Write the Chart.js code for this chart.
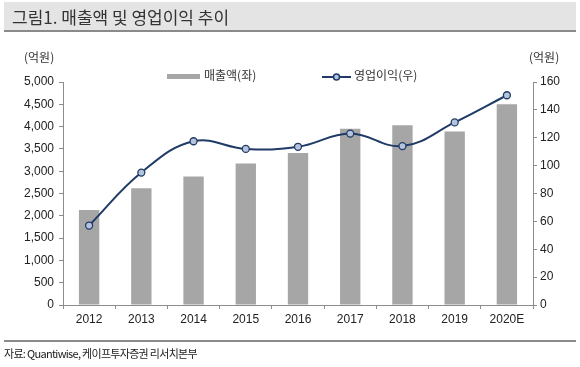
<!DOCTYPE html>
<html>
<head>
<meta charset="utf-8">
<script src="https://cdn.jsdelivr.net/npm/chart.js@4"></script>
<style>
  html, body { margin: 0; padding: 0; background: #fff; }
  #wrap { position: relative; width: 580px; height: 367px; overflow: hidden; font-family: "Noto Sans CJK KR", "Noto Sans", sans-serif; }
  #title { position: absolute; left: 4px; top: 2px; width: 572px; height: 28px; background: #e4e4e4; border-bottom: 2px solid #8a8a8a; }
  #title span { position: absolute; left: 8px; top: 2px; font-size: 17px; color: #333; }
  #chart { position: absolute; left: 0; top: 0; }
  .unit { position: absolute; top: 48px; font-size: 12px; color: #333; font-family: "Noto Sans CJK KR", sans-serif; }
  .legend { position: absolute; top: 66px; font-size: 12px; color: #333; }
  #foot { position: absolute; left: 4px; top: 340px; width: 572px; border-top: 2px solid #8a8a8a; }
  #foot span { position: absolute; left: 0px; top: 3px; font-size: 11px; color: #222; white-space: nowrap; letter-spacing: -0.7px; }
</style>
</head>
<body>
<div id="wrap">
  <canvas id="chart" width="580" height="367"></canvas>
  <div id="title"><span>그림1. 매출액 및 영업이익 추이</span></div>
  <div class="unit" style="left:24px;">(억원)</div>
  <div class="unit" style="left:529px;">(억원)</div>
  <div class="legend" style="left:167px;">
    <span style="display:inline-block;width:33px;height:5px;background:#a6a6a6;vertical-align:middle;margin-right:4px;"></span>매출액(좌)
  </div>
  <div class="legend" style="left:322px;">
    <svg width="29" height="10" style="vertical-align:middle;margin-right:3px;">
      <line x1="0" y1="5" x2="29" y2="5" stroke="#1f3b66" stroke-width="2"/>
      <circle cx="14.5" cy="5" r="3" fill="#b3c4dc" stroke="#1f3b66" stroke-width="1.5"/>
    </svg>영업이익(우)
  </div>
  <div id="foot"><span>자료: Quantiwise, 케이프투자증권 리서치본부</span></div>
</div>
<script>
// data
const years = ["2012", "2013", "2014", "2015", "2016", "2017", "2018", "2019", "2020E"];
const sales = [2130, 2620, 2880, 3170, 3410, 3950, 4030, 3890, 4500];      // 매출액, left axis
const opProfit = [57, 95, 117.5, 112, 113.5, 123, 114, 131, 150.5];        // 영업이익, right axis

const tickFont = { family: "'Liberation Sans', Arial, sans-serif", size: 12 };
const axisGray = "#8c8c8c";

const config = {
  type: "bar",
  data: {
    labels: years,
    datasets: [
      {
        type: "line",
        label: "영업이익(우)",
        data: opProfit,
        yAxisID: "y2",
        borderColor: "#1f3b66",
        borderWidth: 2,
        tension: 0.4,
        pointRadius: 3.5,
        pointBackgroundColor: "#b3c4dc",
        pointBorderColor: "#1f3b66",
        pointBorderWidth: 1.3,
        order: 0,
      },
      {
        type: "bar",
        label: "매출액(좌)",
        data: sales,
        yAxisID: "y",
        backgroundColor: "#a6a6a6",
        barPercentage: 0.39,
        categoryPercentage: 1,
        order: 1,
      },
    ],
  },
  options: {
    responsive: false,
    animation: false,
    layout: { padding: { top: 82, left: 0, right: 0, bottom: 0 } },
    plugins: {
      legend: { display: false },
      tooltip: { enabled: false },
    },
    scales: {
      x: {
        grid: { display: true, drawOnChartArea: false, drawTicks: true, tickLength: 4, color: axisGray, offset: true },
        border: { display: true, color: axisGray, width: 1 },
        ticks: { font: tickFont, color: "#222", padding: 3, maxRotation: 0 },
        afterFit: function (scale) { scale.height = 62; },
      },
      y: {
        position: "left",
        min: 0,
        max: 5000,
        grid: { display: true, drawOnChartArea: false, drawTicks: true, tickLength: 4, color: axisGray },
        border: { display: true, color: axisGray, width: 1 },
        ticks: {
          stepSize: 500,
          font: tickFont,
          color: "#222",
          padding: 5,
          callback: function (value) { return value.toLocaleString("en-US"); },
        },
        afterFit: function (scale) { scale.width = 63; },
      },
      y2: {
        position: "right",
        min: 0,
        max: 160,
        grid: { display: true, drawOnChartArea: false, drawTicks: true, tickLength: 4, color: axisGray },
        border: { display: true, color: axisGray, width: 1 },
        ticks: { stepSize: 20, font: tickFont, color: "#222", padding: 3 },
        afterFit: function (scale) { scale.width = 47; },
      },
    },
  },
};

new Chart(document.getElementById("chart"), config);
</script>
</body>
</html>
